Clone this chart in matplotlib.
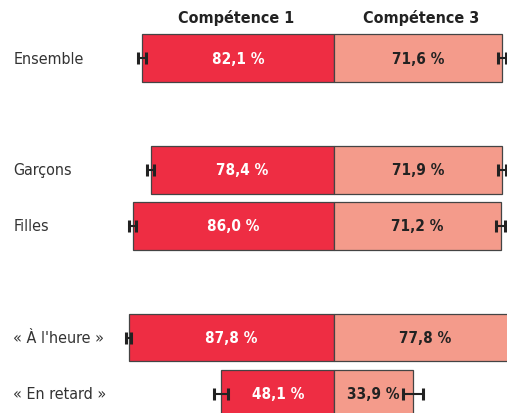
import matplotlib
matplotlib.use("Agg")
import matplotlib.pyplot as plt

# groupes et taux de réussite (%)
groupes = ["Ensemble", "Garçons", "Filles", "« À l'heure »", "« En retard »"]
rangs = [0, 2, 3, 5, 6]
comp1 = [82.1, 78.4, 86.0, 87.8, 48.1]
comp3 = [71.6, 71.9, 71.2, 77.8, 33.9]
err1 = [1.6, 1.6, 1.5, 1.1, 3.0]
err3 = [1.7, 1.7, 1.9, 1.5, 4.3]

rouge = "#EE2D43"
saumon = "#F49B8B"

fig = plt.figure(figsize=(5.07, 4.14), dpi=100)
ax = fig.add_axes([0, 0, 1, 1])

# compétence 1 vers la gauche, compétence 3 vers la droite
ax.barh(rangs, [-v for v in comp1], height=0.84, color=rouge,
        edgecolor="#444444", linewidth=0.9)
ax.barh(rangs, comp3, height=0.84, color=saumon,
        edgecolor="#444444", linewidth=0.9)
ax.errorbar([-v for v in comp1], rangs, xerr=err1, fmt="none",
            ecolor="#222222", elinewidth=1.5, capsize=4.3, capthick=2.2)
ax.errorbar(comp3, rangs, xerr=err3, fmt="none",
            ecolor="#222222", elinewidth=1.5, capsize=4.3, capthick=2.2)

etroit = dict(family="DejaVu Sans", stretch="condensed")
for y, v1, v3, nom in zip(rangs, comp1, comp3, groupes):
    ax.text(-v1 / 2, y, f"{v1:.1f} %".replace(".", ","), ha="center",
            va="center", color="white", fontsize=11, fontweight="bold",
            **etroit)
    ax.text(v3 / 2, y, f"{v3:.1f} %".replace(".", ","), ha="center",
            va="center", color="#222222", fontsize=11, fontweight="bold",
            **etroit)
    ax.text(0.026, y, nom, transform=ax.get_yaxis_transform(), ha="left",
            va="center", color="#333333", fontsize=11.5, **etroit)

fig.text(236 / 507, 1 - 18 / 414, "Compétence 1", ha="center", va="center",
         fontsize=11.5, fontweight="bold", color="#222222", **etroit)
fig.text(421 / 507, 1 - 18 / 414, "Compétence 3", ha="center", va="center",
         fontsize=11.5, fontweight="bold", color="#222222", **etroit)

ax.set_xlim(-142.7, 73.9)
ax.set_ylim(6.34, -1.054)
ax.axis("off")

fig.savefig("out.png", dpi=100)
